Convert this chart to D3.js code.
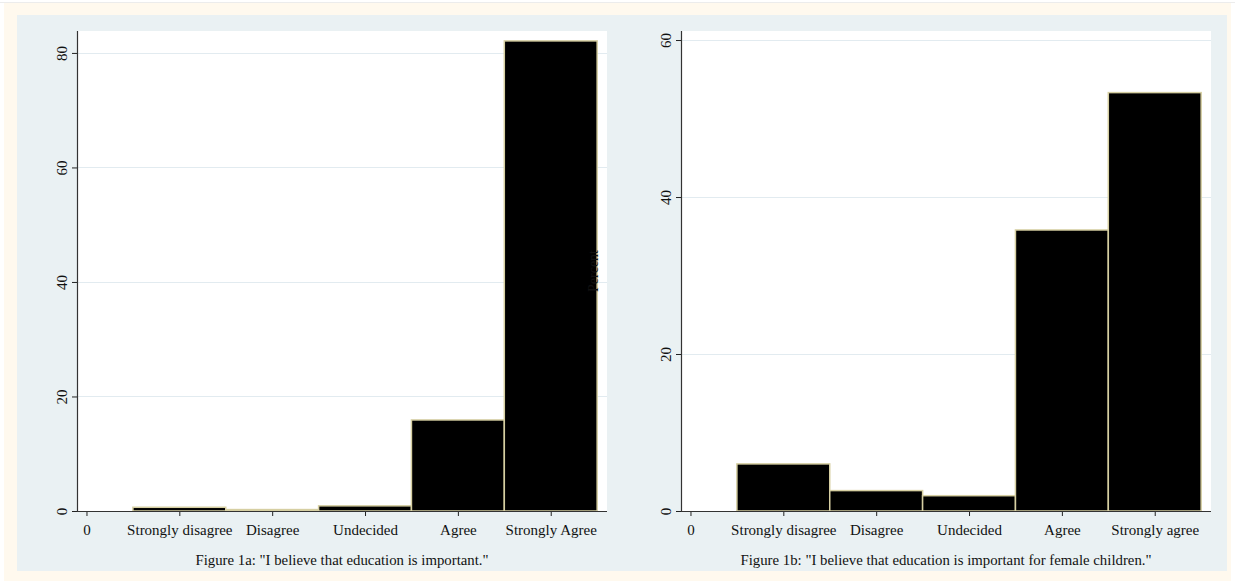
<!DOCTYPE html>
<html>
<head>
<meta charset="utf-8">
<script src="https://cdn.jsdelivr.net/npm/d3@7"></script>
<style>
  html, body { margin: 0; padding: 0; background: #ffffff; }
  svg { display: block; }
  text { font-family: "Liberation Serif", "Times New Roman", serif; fill: #111; }
</style>
</head>
<body>
<svg id="chart" width="1235" height="581"></svg>
<script>
// ---- Data ----
const xTickLabelsA = ["0", "Strongly disagree", "Disagree", "Undecided", "Agree", "Strongly Agree"];
const xTickLabelsB = ["0", "Strongly disagree", "Disagree", "Undecided", "Agree", "Strongly agree"];
const barPositions = [1, 2, 3, 4, 5];
const valuesA = [0.65, 0.25, 0.9, 15.9, 82.1];
const valuesB = [6.0, 2.6, 1.95, 35.8, 53.3];
const yTicksA = [0, 20, 40, 60, 80];
const yTicksB = [0, 20, 40, 60];
const captionA = 'Figure 1a: "I believe that education is important."';
const captionB = 'Figure 1b: "I believe that education is important for female children."';
const yTitleB = "Percent";

// ---- Layout ----
const svg = d3.select("#chart");
svg.append("rect").attr("x", 4).attr("y", 3).attr("width", 1227).attr("height", 578)
  .attr("fill", "#fff9ee");
svg.append("line").attr("x1", 0).attr("x2", 1235).attr("y1", 2.5).attr("y2", 2.5)
  .attr("stroke", "#ececec").attr("stroke-width", 1);
svg.append("rect").attr("x", 17).attr("y", 15).attr("width", 1210).attr("height", 556)
  .attr("fill", "#eaf1f3");

function drawPanel(cfg) {
  const { left, top, width, height, values, labels, yTicks, yMax, caption } = cfg;
  const g = svg.append("g");
  const x = d3.scaleLinear().domain([-0.102, 5.606]).range([left, left + width]);
  const y = d3.scaleLinear().domain([0, yMax]).range([top + height, top]);

  g.append("rect").attr("x", left).attr("y", top).attr("width", width).attr("height", height)
    .attr("fill", "#ffffff");

  // gridlines
  g.selectAll("line.grid").data(yTicks.filter(d => d > 0)).join("line")
    .attr("class", "grid")
    .attr("x1", left).attr("x2", left + width)
    .attr("y1", d => Math.round(y(d)) + 0.5).attr("y2", d => Math.round(y(d)) + 0.5)
    .attr("stroke", "#e2ebf0").attr("stroke-width", 1.2);

  // bars
  g.selectAll("rect.bar").data(values).join("rect")
    .attr("class", "bar")
    .attr("x", (d, i) => x(barPositions[i] - 0.5))
    .attr("width", (d, i) => x(barPositions[i] + 0.5) - x(barPositions[i] - 0.5))
    .attr("y", d => y(d))
    .attr("height", d => y(0) - y(d))
    .attr("fill", "#000000")
    .attr("stroke", "#d6cfa2").attr("stroke-width", 1.5);

  // y axis
  const yAxis = d3.axisLeft(y).tickValues(yTicks).tickSize(5).tickPadding(0).tickFormat(d3.format("d"));
  const ya = g.append("g").attr("transform", `translate(${left},0)`).call(yAxis);
  ya.select(".domain").remove();
  ya.selectAll(".tick line").attr("stroke", "#222");
  ya.selectAll(".tick text")
    .attr("x", null).attr("dy", null)
    .attr("text-anchor", "middle")
    .attr("transform", "translate(-15,0) rotate(-90)")
    .attr("dy", "0.35em")
    .style("font-size", "15px")
    .style("font-family", '"Liberation Serif", serif')
    .attr("fill", "#111");
  g.append("line").attr("x1", left + 0.5).attr("x2", left + 0.5)
    .attr("y1", top).attr("y2", top + height + 0.5).attr("stroke", "#333").attr("stroke-width", 1.2);

  // x axis
  const xAxis = d3.axisBottom(x).tickValues(d3.range(labels.length)).tickSize(5).tickPadding(8)
    .tickFormat(i => labels[i]);
  const xa = g.append("g").attr("transform", `translate(0,${top + height})`).call(xAxis);
  xa.select(".domain").remove();
  xa.selectAll(".tick line").attr("stroke", "#222");
  xa.selectAll(".tick text").style("font-size", "15px")
    .style("font-family", '"Liberation Serif", serif').attr("fill", "#111");
  g.append("line").attr("x1", left).attr("x2", left + width)
    .attr("y1", top + height + 0.5).attr("y2", top + height + 0.5)
    .attr("stroke", "#333").attr("stroke-width", 1.2);

  // caption, centred under the plot region
  g.append("text").attr("x", left + width / 2).attr("y", 565)
    .attr("text-anchor", "middle").style("font-size", "14.8px").text(caption);
  return g;
}

drawPanel({ left: 77, top: 31, width: 530, height: 480, values: valuesA, labels: xTickLabelsA,
  yTicks: yTicksA, yMax: 83.83, caption: captionA });
drawPanel({ left: 681, top: 31, width: 530, height: 480, values: valuesB, labels: xTickLabelsB,
  yTicks: yTicksB, yMax: 61.15, caption: captionB });

// y-axis title of the right panel, drawn where the source placed it (mostly hidden on the bar)
svg.append("text").attr("transform", "translate(598,271) rotate(-90)")
  .attr("text-anchor", "middle").style("font-size", "14px").attr("fill", "#111").text(yTitleB);
</script>
</body>
</html>
